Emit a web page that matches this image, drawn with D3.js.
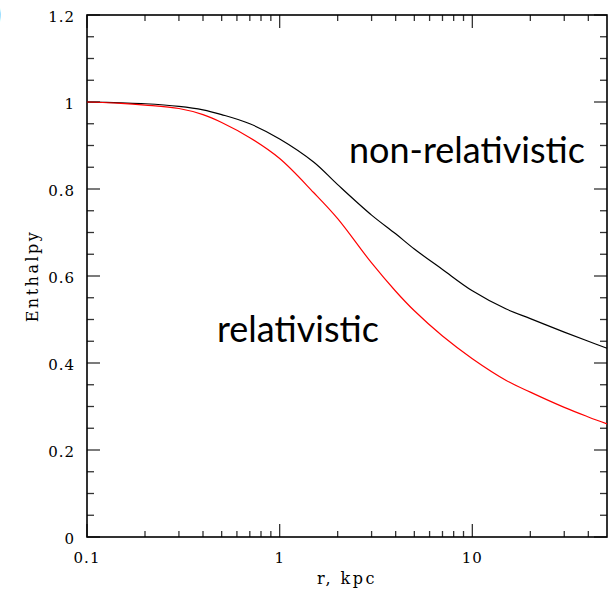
<!DOCTYPE html>
<html>
<head>
<meta charset="utf-8">
<script src="https://cdn.jsdelivr.net/npm/d3@7"></script>
<style>
    body { margin: 0; background: #fff; }
    .tick-label { font-family: "DejaVu Serif", serif; font-size: 15px; letter-spacing: 1px; fill: #000; }
    .axis-title { font-family: "DejaVu Serif", serif; font-size: 16px; letter-spacing: 2.5px; fill: #000; }
    .curve-label { font-family: Lato, "Open Sans", sans-serif; font-size: 36px; fill: #000; }
</style>
</head>
<body>
<div id="chart"></div>
<script>
// radius in kpc
let radius = [0.1, 0.15, 0.2, 0.3, 0.4, 0.5, 0.7, 1, 1.5, 2, 3, 4, 5, 7, 10, 15, 20, 30, 40, 50];
let nonRelativistic = [1.0, 0.998, 0.996, 0.99, 0.982, 0.971, 0.95, 0.915, 0.862, 0.81, 0.74, 0.697, 0.662, 0.615, 0.566, 0.524, 0.502, 0.471, 0.45, 0.434];
let relativistic = [1.0, 0.997, 0.993, 0.985, 0.971, 0.953, 0.918, 0.87, 0.792, 0.732, 0.63, 0.565, 0.52, 0.462, 0.41, 0.36, 0.333, 0.298, 0.276, 0.26];

let xMajor = [0.1, 1, 10];
let xMinor = [0.2, 0.3, 0.4, 0.5, 0.6, 0.7, 0.8, 0.9, 2, 3, 4, 5, 6, 7, 8, 9, 20, 30, 40];
let xLabels = ['0.1', '1', '10'];
let yMajor = [0, 0.2, 0.4, 0.6, 0.8, 1, 1.2];
let yLabels = ['0', '0.2', '0.4', '0.6', '0.8', '1', '1.2'];

let totalWidth = 615, totalHeight = 593;
let margin = {top: 15, right: 8, bottom: 56, left: 87};
let width = totalWidth - margin.left - margin.right;
let height = totalHeight - margin.top - margin.bottom;

let svg = d3.select('#chart')
    .append('svg')
    .attr('width', totalWidth)
    .attr('height', totalHeight);

// panel label, mostly cut off by the page edge
svg.append('text')
    .attr('x', -9)
    .attr('y', 27)
    .style('fill', '#000')
    .style('font-family', 'Lato, sans-serif')
    .style('font-size', '38px')
    .style('font-weight', 'bold')
    .text(')');

let g = svg.append('g')
    .attr('transform', 'translate(' + margin.left + ', ' + margin.top + ')');

let x = d3.scaleLog()
    .domain([0.1, 50])
    .range([0, width]);
let y = d3.scaleLinear()
    .domain([0, 1.2])
    .range([height, 0]);

function tick(x1, y1, x2, y2) {
    g.append('line')
        .attr('x1', x1).attr('y1', y1)
        .attr('x2', x2).attr('y2', y2)
        .style('stroke', '#333')
        .style('stroke-width', 1.3);
}

// ticks on all four sides, pointing inward
let yMinor = d3.range(0, 1.2001, 0.05).filter(v => Math.abs(Math.round(v * 5) - v * 5) > 1e-6);
yMajor.forEach(function (v) {
    tick(0, y(v), 13, y(v));
    tick(width, y(v), width - 13, y(v));
});
yMinor.forEach(function (v) {
    tick(0, y(v), 7, y(v));
    tick(width, y(v), width - 7, y(v));
});
xMajor.forEach(function (v) {
    tick(x(v), height, x(v), height - 13);
    tick(x(v), 0, x(v), 13);
});
xMinor.forEach(function (v) {
    tick(x(v), height, x(v), height - 6);
    tick(x(v), 0, x(v), 6);
});

// frame
g.append('rect')
    .attr('x', 0).attr('y', 0)
    .attr('width', width).attr('height', height)
    .style('fill', 'none')
    .style('stroke', '#000')
    .style('stroke-width', 1.6);

// tick labels
g.selectAll('.ylab')
    .data(yMajor)
    .enter().append('text')
    .attr('class', 'tick-label')
    .attr('x', -12)
    .attr('y', d => y(d) + 7)
    .attr('text-anchor', 'end')
    .text((d, i) => yLabels[i]);

g.selectAll('.xlab')
    .data(xMajor)
    .enter().append('text')
    .attr('class', 'tick-label')
    .attr('x', d => x(d))
    .attr('y', height + 26)
    .attr('text-anchor', 'middle')
    .text((d, i) => xLabels[i]);

// axis titles
g.append('text')
    .attr('class', 'axis-title')
    .attr('x', width / 2)
    .attr('y', height + 47)
    .attr('text-anchor', 'middle')
    .text('r, kpc');

g.append('text')
    .attr('class', 'axis-title')
    .attr('transform', 'translate(' + (38 - margin.left) + ', ' + (height / 2) + ') rotate(-90)')
    .attr('text-anchor', 'middle')
    .text('Enthalpy');

// curves
let line = d3.line()
    .x(d => x(d[0]))
    .y(d => y(d[1]))
    .curve(d3.curveCatmullRom.alpha(0.5));

g.append('path')
    .datum(radius.map((r, i) => [r, nonRelativistic[i]]))
    .attr('d', line)
    .style('fill', 'none')
    .style('stroke', '#000')
    .style('stroke-width', 1.2);

g.append('path')
    .datum(radius.map((r, i) => [r, relativistic[i]]))
    .attr('d', line)
    .style('fill', 'none')
    .style('stroke', '#ff0000')
    .style('stroke-width', 1.2);

// curve labels
svg.append('text')
    .attr('class', 'curve-label')
    .attr('x', 349)
    .attr('y', 163)
    .text('non-relativistic');

svg.append('text')
    .attr('class', 'curve-label')
    .attr('x', 217)
    .attr('y', 342)
    .text('relativistic');
</script>
</body>
</html>
